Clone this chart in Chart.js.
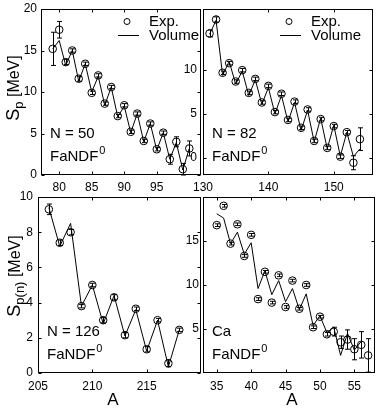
<!DOCTYPE html>
<html>
<head>
<meta charset="utf-8">
<script src="https://cdn.jsdelivr.net/npm/chart.js@4.4.0/dist/chart.umd.min.js"></script>
<style>
    body { margin: 0; background: #fff; }
    #wrap { position: relative; width: 382px; height: 414px; overflow: hidden; }
    #wrap canvas { position: absolute; }
</style>
</head>
<body>
<div id="wrap">
    <canvas id="c50" width="206" height="200" style="left:0;top:0"></canvas>
    <canvas id="c126" width="206" height="224" style="left:0;top:190px"></canvas>
    <canvas id="c82" width="202" height="200" style="left:180px;top:0"></canvas>
    <canvas id="cCa" width="202" height="224" style="left:180px;top:190px"></canvas>
</div>
<script>
// N = 50 isotones
const A50 = [79, 80, 81, 82, 83, 84, 85, 86, 87, 88, 89, 90, 91, 92, 93, 94, 95, 96, 97, 98, 99, 100];
const exp50 = [15.2, 17.5, 13.6, 15.0, 11.6, 13.4, 9.9, 12.0, 8.6, 10.6, 7.1, 8.4, 5.2, 7.4, 4.1, 6.2, 3.1, 5.1, 1.9, 4.0, 0.7, 3.2];
const err50 = [2.0, 1.0, 0.3, 0.2, 0.3, 0.2, 0.2, 0.2, 0.2, 0.2, 0.2, 0.2, 0.2, 0.2, 0.2, 0.2, 0.2, 0.2, 0.6, 0.6, 0.7, 0.9];
const vol50 = [15.2, 16.2, 13.2, 15.0, 11.3, 13.4, 10.0, 11.9, 8.4, 10.6, 7.0, 8.3, 5.1, 7.4, 4.0, 6.2, 3.0, 5.1, 1.9, 3.9, 0.6, 3.2];

// N = 82 isotones
const A82 = [131, 132, 133, 134, 135, 136, 137, 138, 139, 140, 141, 142, 143, 144, 145, 146, 147, 148, 149, 150, 151, 152, 153, 154];
const exp82 = [14.2, 15.8, 9.7, 10.8, 8.7, 10.0, 7.4, 9.0, 6.3, 8.2, 5.2, 7.3, 4.3, 6.4, 3.4, 5.5, 1.9, 4.4, 1.1, 3.6, 0.1, 2.9, -0.6, 2.1];
const err82 = [0.4, 0.3, 0.2, 0.2, 0.2, 0.2, 0.2, 0.2, 0.2, 0.2, 0.2, 0.2, 0.2, 0.2, 0.2, 0.2, 0.2, 0.2, 0.2, 0.2, 0.2, 0.2, 0.8, 1.3];
const vol82 = [14.1, 15.7, 9.4, 11.0, 8.4, 9.9, 7.1, 8.9, 6.1, 8.0, 5.0, 7.1, 4.1, 6.3, 3.1, 5.4, 1.8, 4.5, 1.0, 3.7, 0.15, 2.9, 0.1, 1.0];

// N = 126 isotones
const A126 = [206, 207, 208, 209, 210, 211, 212, 213, 214, 215, 216, 217, 218];
const exp126 = [9.3, 7.4, 8.0, 3.8, 5.0, 3.0, 4.3, 2.15, 3.65, 1.35, 3.0, 0.55, 2.45];
const err126 = [0.3, 0.15, 0.15, 0.1, 0.1, 0.15, 0.15, 0.15, 0.1, 0.15, 0.1, 0.2, 0.1];
const vol126 = [9.4, 7.2, 8.5, 3.8, 5.0, 2.8, 4.4, 2.1, 3.6, 1.25, 3.0, 0.35, 2.45];

// Ca isotopes
const ACa = [35, 36, 37, 38, 39, 40, 41, 42, 43, 44, 45, 46, 47, 48, 49, 50, 51, 52, 53, 54, 55, 56, 57];
const expCa = [16.8, 19.0, 14.7, 16.9, 13.3, 15.7, 8.4, 11.5, 8.0, 11.1, 7.5, 10.5, 7.3, 10.0, 5.2, 6.4, 4.4, 4.7, 3.5, 3.8, 2.7, 3.2, 2.0];
const errCa = [0.15, 0.15, 0.15, 0.15, 0.15, 0.15, 0.15, 0.15, 0.15, 0.15, 0.15, 0.15, 0.15, 0.15, 0.15, 0.15, 0.2, 0.5, 0.7, 1.1, 1.2, 1.5, 1.9];
const volCa = [18.1, 17.6, 14.7, 16.0, 13.5, 14.8, 9.6, 11.6, 8.9, 10.5, 8.1, 9.6, 7.2, 9.0, 5.4, 6.5, 4.6, 5.2, 2.0, 4.5, 2.6, 3.6, null];

// tick labels
const xTicks50 = [80, 85, 90, 95];
const yTicks50 = [0, 5, 10, 15, 20];
const xTicks82 = [130, 140, 150];
const yTicks82 = [0, 5, 10];
const xTicks126 = [205, 210, 215];
const yTicks126 = [0, 2, 4, 6, 8, 10];
const xTicksCa = [35, 40, 45, 50, 55];
const yTicksCa = [5, 10, 15];

const FONT = "'Liberation Sans', Arial, Helvetica, sans-serif";
const f = (size) => size + "px " + FONT;

/*** Frame, inside ticks, error bars, legend and labels ***/
const panelDeco = {
    id: "panelDeco",
    afterDatasetsDraw(chart, args, o) {
        const ctx = chart.ctx;
        const a = chart.chartArea;
        const xs = chart.scales.x, ys = chart.scales.y;
        const L = Math.round(a.left) + 0.5, R = Math.round(a.right) - 0.5;
        const T = Math.round(a.top) + 0.5, B = Math.round(a.bottom) - 0.5;
        ctx.save();
        ctx.strokeStyle = "#000";
        ctx.fillStyle = "#000";
        ctx.lineWidth = 1;

        // error bars
        ctx.beginPath();
        o.A.forEach((A, i) => {
            const x = Math.round(xs.getPixelForValue(A)) + 0.5;
            const y1 = ys.getPixelForValue(o.exp[i] - o.err[i]);
            const y2 = ys.getPixelForValue(o.exp[i] + o.err[i]);
            ctx.moveTo(x, y1); ctx.lineTo(x, y2);
            ctx.moveTo(x - 2.5, y1); ctx.lineTo(x + 2.5, y1);
            ctx.moveTo(x - 2.5, y2); ctx.lineTo(x + 2.5, y2);
        });
        ctx.stroke();

        // box and inside ticks
        ctx.strokeRect(L, T, R - L, B - T);
        ctx.beginPath();
        xs.ticks.forEach(t => {
            const x = Math.round(xs.getPixelForValue(t.value)) + 0.5;
            ctx.moveTo(x, B); ctx.lineTo(x, B - 3);
            ctx.moveTo(x, T); ctx.lineTo(x, T + 3);
        });
        ys.ticks.forEach(t => {
            const y = Math.round(ys.getPixelForValue(t.value)) + 0.5;
            ctx.moveTo(L, y); ctx.lineTo(L + 3, y);
            ctx.moveTo(R, y); ctx.lineTo(R - 3, y);
        });
        ctx.stroke();

        // legend
        if (o.legend) {
            const lx = a.left;
            ctx.beginPath();
            ctx.arc(lx + 86, 21.5, 3, 0, Math.PI * 2);
            ctx.stroke();
            ctx.beginPath();
            ctx.moveTo(lx + 77, 35.5); ctx.lineTo(lx + 98, 35.5);
            ctx.stroke();
            ctx.font = f(15);
            ctx.textBaseline = "middle";
            ctx.fillText(chart.data.datasets[1].label, lx + 108, 22);
            ctx.fillText(chart.data.datasets[0].label, lx + 108, 36);
        }

        // panel labels
        ctx.textBaseline = "alphabetic";
        ctx.font = f(15);
        ctx.fillText(o.name, a.left + 9, a.bottom - 37);
        ctx.fillText("FaNDF", a.left + 9, a.bottom - 14);
        const w = ctx.measureText("FaNDF").width;
        ctx.font = f(11);
        ctx.fillText("0", a.left + 9 + w + 1, a.bottom - 21);

        // axis titles
        if (o.xTitle) {
            ctx.font = f(17);
            ctx.textAlign = "center";
            ctx.textBaseline = "middle";
            ctx.fillText("A", o.xTitle[0], o.xTitle[1]);
            ctx.textAlign = "left";
        }
        if (o.yTitle) {
            const parts = [["S", 18, 0], [o.yTitle.sub, 13, 4], [" [MeV]", 16, 0]];
            let total = 0;
            parts.forEach(p => { ctx.font = f(p[1]); total += ctx.measureText(p[0]).width; });
            ctx.translate(o.yTitle.x, o.yTitle.cy);
            ctx.rotate(-Math.PI / 2);
            ctx.textBaseline = "alphabetic";
            let cx = -total / 2;
            parts.forEach(p => {
                ctx.font = f(p[1]);
                ctx.fillText(p[0], cx, p[2]);
                cx += ctx.measureText(p[0]).width;
            });
        }
        ctx.restore();
    }
};

function makePanel(id, p) {
    return new Chart(document.getElementById(id), {
        type: "line",
        data: {
            datasets: [
                {
                    label: "Volume",
                    data: p.A.map((a, i) => ({ x: a, y: p.vol[i] })),
                    borderColor: "#000",
                    borderWidth: 1,
                    pointRadius: 0,
                    tension: 0
                },
                {
                    label: "Exp.",
                    data: p.A.map((a, i) => ({ x: a, y: p.exp[i] })),
                    showLine: false,
                    pointStyle: "circle",
                    pointRadius: 3.8,
                    borderColor: "#000",
                    backgroundColor: "rgba(0,0,0,0)",
                    borderWidth: 1
                }
            ]
        },
        options: {
            responsive: false,
            animation: false,
            events: [],
            layout: { padding: p.pad },
            plugins: {
                legend: { display: false },
                tooltip: { enabled: false },
                panelDeco: {
                    A: p.A, exp: p.exp, err: p.err, name: p.name,
                    legend: p.legend, xTitle: p.xTitle, yTitle: p.yTitle
                }
            },
            scales: {
                x: {
                    type: "linear",
                    min: p.xRange[0], max: p.xRange[1],
                    grid: { display: false, drawTicks: false },
                    border: { display: false },
                    ticks: { font: { family: FONT, size: 12 }, color: "#000", padding: p.xPad, maxRotation: 0 },
                    afterBuildTicks: s => { s.ticks = p.xTicks.map(v => ({ value: v })); },
                    afterFit: s => { s.height = p.xH; s.paddingLeft = 0; s.paddingRight = 0; }
                },
                y: {
                    min: p.yRange[0], max: p.yRange[1],
                    grid: { display: false, drawTicks: false },
                    border: { display: false },
                    ticks: { font: { family: FONT, size: 12 }, color: "#000", padding: p.yPad },
                    afterBuildTicks: s => { s.ticks = p.yTicks.map(v => ({ value: v })); },
                    afterFit: s => { s.width = p.yW; s.paddingTop = 0; s.paddingBottom = 0; }
                }
            }
        },
        plugins: [panelDeco]
    });
}

makePanel("c50", {
    A: A50, exp: exp50, err: err50, vol: vol50, name: "N = 50",
    xRange: [77.2, 101.8], yRange: [0, 20], xTicks: xTicks50, yTicks: yTicks50,
    pad: { left: 0, top: 9, right: 2, bottom: 0 }, yW: 41, xH: 25, xPad: 5, yPad: 4,
    legend: true, yTitle: { sub: "p", x: 19, cy: 88 }
});
makePanel("c126", {
    A: A126, exp: exp126, err: err126, vol: vol126, name: "N = 126",
    xRange: [205, 220], yRange: [0, 10], xTicks: xTicks126, yTicks: yTicks126,
    pad: { left: 0, top: 7, right: 2, bottom: 0 }, yW: 38, xH: 41, xPad: 6, yPad: 5,
    xTitle: [113, 210], yTitle: { sub: "p(n)", x: 20, cy: 86 }
});
makePanel("c82", {
    A: A82, exp: exp82, err: err82, vol: vol82, name: "N = 82",
    xRange: [130, 156], yRange: [-2, 17], xTicks: xTicks82, yTicks: yTicks82,
    pad: { left: 0, top: 9, right: 9, bottom: 0 }, yW: 23, xH: 25, xPad: 5, yPad: 6,
    legend: true
});
makePanel("cCa", {
    A: ACa, exp: expCa, err: errCa, vol: volCa, name: "Ca",
    xRange: [33, 58], yRange: [0, 20], xTicks: xTicksCa, yTicks: yTicksCa,
    pad: { left: 0, top: 7, right: 7, bottom: 0 }, yW: 23, xH: 41, xPad: 6, yPad: 4,
    xTitle: [112, 210]
});
</script>
</body>
</html>
